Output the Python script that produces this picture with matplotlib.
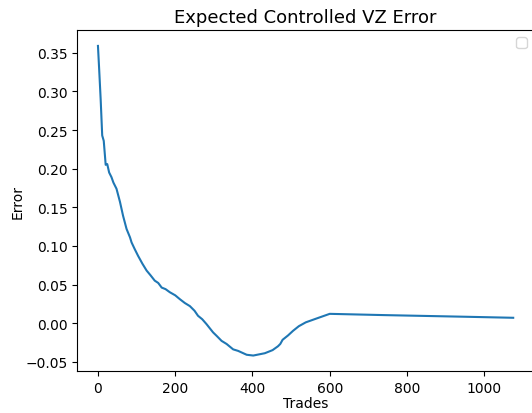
import matplotlib
matplotlib.use("Agg")
import matplotlib.pyplot as plt
import numpy as np

# values
trades = [0, 3, 7, 11, 15, 20, 24, 29, 35, 40, 48, 57, 65, 74, 83, 87, 95, 104,
          115, 126, 136, 147, 156, 165, 175, 186, 200, 212, 225, 238, 250, 259,
          270, 281, 298, 307, 320, 333, 350, 363, 385, 402, 432, 452, 466, 472,
          478, 492, 505, 520, 538, 566, 600, 738, 954, 1075]
error = [0.359, 0.33, 0.29, 0.243, 0.236, 0.205, 0.206, 0.195, 0.189, 0.182,
         0.174, 0.157, 0.139, 0.122, 0.111, 0.1045, 0.096, 0.087, 0.077, 0.068,
         0.062, 0.055, 0.052, 0.046, 0.044, 0.040, 0.036, 0.031, 0.026, 0.022,
         0.016, 0.0095, 0.005, -0.0013, -0.012, -0.0164, -0.023, -0.027,
         -0.034, -0.036, -0.041, -0.042, -0.039, -0.035, -0.030, -0.027,
         -0.0216, -0.016, -0.010, -0.004, 0.001, 0.006, 0.012, 0.0104, 0.0082,
         0.0069]

fig = plt.figure(figsize=(5.32, 4.14), dpi=100)
ax = fig.add_axes([0.1451, 0.1014, 0.8586, 0.8227])
ax.plot(trades, error)
ax.set_title("Expected Controlled VZ Error", fontsize=13)
ax.set_xlabel("Trades", labelpad=1)
ax.set_ylabel("Error", labelpad=0.5)
ax.legend()
fig.savefig("out.png", dpi=100)
